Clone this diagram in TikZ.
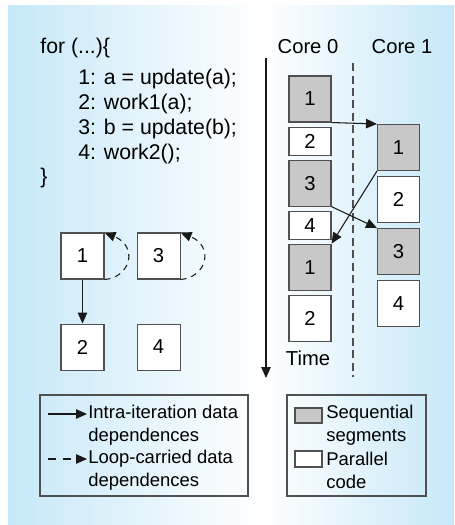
\documentclass[tikz,border=0pt]{standalone}
\usepackage{fontspec}
\setmainfont{Liberation Sans}
\usepackage{tikz}
\usetikzlibrary{positioning,arrows.meta,calc}

\definecolor{bgblue}{RGB}{198,232,248}
\definecolor{seqgray}{RGB}{200,200,200}
\definecolor{boxline}{RGB}{80,80,80}

\begin{document}
\begin{tikzpicture}[x=0.02cm, y=-0.02cm,
    seqbox/.style={rectangle, draw=boxline, line width=0.6pt, fill=seqgray, minimum width=0.84cm, minimum height=0.92cm, inner sep=0pt, font=\fontsize{11.5}{13}\selectfont},
    parbox/.style={seqbox, fill=white},
    halfbox/.style={minimum height=0.56cm},
    stmt/.style={parbox, minimum width=0.86cm},
    code/.style={anchor=base west, inner sep=0pt, font=\fontsize{12.1}{14}\selectfont},
    lbl/.style={inner sep=0pt, font=\fontsize{11.5}{13}\selectfont},
    legtext/.style={anchor=west, align=left, inner sep=0pt, font=\fontsize{10.5}{13.1}\selectfont},
    legbox/.style={rectangle, draw=boxline, line width=0.8pt, minimum height=2.02cm, inner sep=0pt},
    dep/.style={-{Triangle[length=0.22cm, width=0.19cm]}, line width=0.6pt, black!90},
    loopdep/.style={dep, dash pattern=on 0.12cm off 0.1cm}]

    % background
    \fill[left color=bgblue, right color=white] (8,5) rectangle (262,525);
    \fill[left color=white, right color=bgblue] (261,5) rectangle (454,525);
    \useasboundingbox (0,0) rectangle (454,525);

    % loop code
    \node [code] (for) at (40,53) {for (...)\{};
    \node [code] (st1) at (78,84) {1: a = update(a);};
    \node [code] (st2) at (78,109) {2: work1(a);};
    \node [code] (st3) at (78,134) {3: b = update(b);};
    \node [code] (st4) at (78,159) {4: work2();};
    \node [code] (close) at (40,183) {\}};

    % dependence graph
    \node [stmt] (s1) at (82.5,256) {1};
    \node [stmt, right=0.64cm of s1] (s3) {3};
    \node [stmt, below=0.88cm of s1] (s2) {2};
    \node [stmt, below=0.88cm of s3] (s4) {4};
    \draw [dep] (s1) -- (s2);
    \draw [loopdep] (s1.south east) .. controls +(26,-2) and +(34,14) .. (s1.north east);
    \draw [loopdep] (s3.south east) .. controls +(26,-2) and +(34,14) .. (s3.north east);

    % cores and time
    \node [lbl] (core0) at (308,47) {Core 0};
    \node [lbl] (core1) at (402,47) {Core 1};
    \coordinate (ttop) at (266,58);
    \coordinate (tend) at (266,378);
    \draw [dep] (ttop) -- (tend);
    \node [lbl] (time) at (308,358) {Time};
    \coordinate (dtop) at (353,63);
    \coordinate (dend) at (353,377);
    \draw [boxline, line width=0.6pt, dash pattern=on 0.16cm off 0.09cm] (dtop) -- (dend);

    % core 0
    \node [seqbox] (zero1) at (310,99) {1};
    \node [parbox, halfbox, below=0.08cm of zero1] (zero2) {2};
    \node [seqbox, below=0.08cm of zero2] (zero3) {3};
    \node [parbox, halfbox, below=0.08cm of zero3] (zero4) {4};
    \node [seqbox, below=0.08cm of zero4] (zero5) {1};
    \node [parbox, below=0.08cm of zero5] (zero6) {2};

    % core 1
    \node [seqbox] (one1) at (398.5,147.5) {1};
    \node [parbox, below=0.1cm of one1] (one2) {2};
    \node [seqbox, below=0.1cm of one2] (one3) {3};
    \node [parbox, below=0.1cm of one3] (one4) {4};

    \draw [dep] (zero1.south east) -- (one1.north west);
    \draw [dep] (one1.south west) -- (zero5.north east);
    \draw [dep] (zero3.south east) -- (one3.north west);

    % legends
    \node [legbox, minimum width=4.16cm] (legdep) at (144,445.5) {};
    \node [legbox, minimum width=2.78cm] (legseg) at (356.5,445.5) {};
    \coordinate (ia) at (48,414);
    \coordinate (ib) at (87,414);
    \draw [dep] (ia) -- (ib);
    \node [legtext] (intra) at (88,425.5) {Intra-iteration data\\dependences};
    \coordinate (la) at (48,459);
    \coordinate (lb) at (87,459);
    \draw [dep, dash pattern=on 0.16cm off 0.14cm] (la) -- (lb);
    \node [legtext] (carried) at (88,470) {Loop-carried data\\dependences};
    \node [seqbox, minimum width=0.54cm, minimum height=0.3cm] (keyseq) at (308.5,415.5) {};
    \node [legtext] (seqtext) at (326,425.5) {Sequential\\segments};
    \node [parbox, minimum width=0.54cm, minimum height=0.32cm] (keypar) at (308.5,459) {};
    \node [legtext] (partext) at (326,470) {Parallel\\code};
\end{tikzpicture}
\end{document}
